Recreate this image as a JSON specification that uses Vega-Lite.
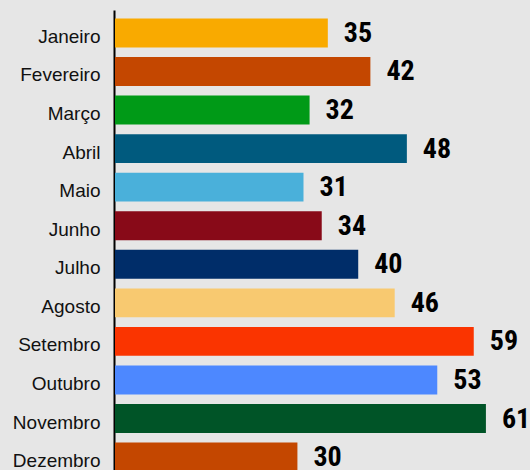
{
  "$schema": "https://vega.github.io/schema/vega-lite/v6.json",
  "autosize": {"type": "none"},
  "width": 415,
  "height": 470,
  "padding": {"left": 115, "top": 10, "right": 0, "bottom": 0},
  "background": "#e6e6e6",
  "config": {"view": {"stroke": null}},
  "data": {
    "values": [
      {"mes": "Janeiro", "valor": 35, "cor": "#f9aa00"},
      {"mes": "Fevereiro", "valor": 42, "cor": "#c44700"},
      {"mes": "Março", "valor": 32, "cor": "#009a17"},
      {"mes": "Abril", "valor": 48, "cor": "#005a7e"},
      {"mes": "Maio", "valor": 31, "cor": "#4ab0da"},
      {"mes": "Junho", "valor": 34, "cor": "#880a18"},
      {"mes": "Julho", "valor": 40, "cor": "#002d69"},
      {"mes": "Agosto", "valor": 46, "cor": "#f8c970"},
      {"mes": "Setembro", "valor": 59, "cor": "#fa3400"},
      {"mes": "Outubro", "valor": 53, "cor": "#4d88ff"},
      {"mes": "Novembro", "valor": 61, "cor": "#005427"},
      {"mes": "Dezembro", "valor": 30, "cor": "#c44700"}
    ]
  },
  "encoding": {
    "y": {
      "field": "mes",
      "type": "nominal",
      "sort": null,
      "scale": {"paddingInner": 0.25, "paddingOuter": 0.22},
      "axis": {
        "title": null,
        "ticks": false,
        "domainColor": "#000000",
        "domainWidth": 2,
        "offset": 1,
        "labelPadding": 14,
        "labelOffset": 4,
        "labelFont": "Liberation Sans",
        "labelFontSize": 19,
        "labelColor": "#111111"
      }
    },
    "x": {
      "field": "valor",
      "type": "quantitative",
      "scale": {"domain": [0, 68.25], "nice": false},
      "axis": null
    }
  },
  "layer": [
    {
      "mark": {"type": "bar"},
      "encoding": {"color": {"field": "cor", "type": "nominal", "scale": null}}
    },
    {
      "mark": {
        "type": "text",
        "align": "left",
        "baseline": "middle",
        "dx": 16,
        "dy": 1,
        "font": "Roboto Condensed, Liberation Sans Narrow, DejaVu Sans Condensed",
        "fontWeight": "bold",
        "fontSize": 28,
        "color": "#000000"
      },
      "encoding": {"text": {"field": "valor", "type": "quantitative"}}
    }
  ]
}
